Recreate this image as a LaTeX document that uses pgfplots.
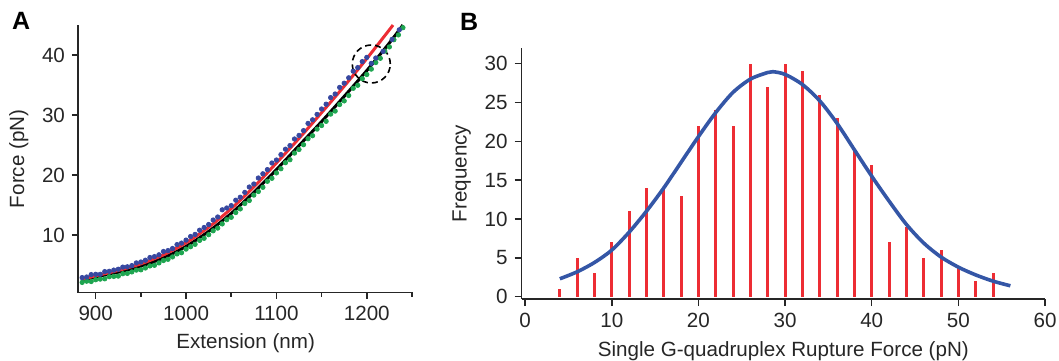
\documentclass[border=0pt]{standalone}
\usepackage{fontspec}
\setmainfont{Liberation Sans}
\usepackage{pgfplots}
\pgfplotsset{compat=1.18}
\definecolor{myred}{RGB}{237,45,52}
\definecolor{curveblue}{RGB}{52,86,166}
\definecolor{datablue}{RGB}{55,72,160}
\definecolor{datagreen}{RGB}{30,165,80}
\pgfplotsset{
  common/.style={
    scale only axis,
    anchor=south west,
    axis lines=left,
    axis line style={-, line width=0.75pt, black!85},
    tick align=outside,
    tick style={line width=0.75pt, black!85},
    /pgf/number format/assume math mode=true,
    /pgf/number format/1000 sep={},
    tick label style={font=\fontsize{10.3}{12}\selectfont, text=black!85},
    label style={font=\fontsize{10.3}{12}\selectfont, text=black!85},
  }
}
\begin{document}
\begin{tikzpicture}
\useasboundingbox (0,0) rectangle (529.5pt,180pt);
\node[anchor=base west, inner sep=0pt, font=\bfseries\fontsize{12.5}{14}\selectfont] at (5.8pt,165.2pt) {A};
\node[anchor=base west, inner sep=0pt, font=\bfseries\fontsize{12.5}{14}\selectfont] at (229.8pt,165pt) {B};
% Panel A
\begin{axis}[common,
  at={(39pt,33.7pt)}, width=167.7pt, height=133.8pt,
  xmin=880.4, xmax=1251.6, ymin=0.4, ymax=45,
  xtick={900,1000,1100,1200}, minor xtick={950,1050,1150,1250},
  ytick={10,20,30,40},
  major tick length=3pt, minor tick length=2pt,
  xlabel={Extension (nm)}, ylabel={Force (pN)},
  clip=false]
\addplot[only marks, mark=*, mark size=1.1pt, color=datagreen] coordinates {
(885,2.1) (890,2.3) (895,2.25) (900,2.55) (905,2.65) (910,2.7) (915,3.05) (920,3.1)
(925,3.15) (930,3.55) (935,3.6) (940,3.85) (945,4.15) (950,4.2) (955,4.5) (960,4.85)
(965,4.95) (970,5.35) (975,5.75) (980,5.95) (985,6.35) (990,6.85) (995,7.05) (1000,7.65)
(1005,8.05) (1010,8.45) (1015,9.1) (1020,9.45) (1025,10.05) (1030,10.7) (1035,11.15)
(1040,11.85) (1045,12.55) (1050,12.95) (1055,13.75) (1060,14.35) (1065,15.25) (1070,15.75)
(1075,16.65) (1080,17.25) (1085,17.95) (1090,18.95) (1095,19.45) (1100,20.35) (1105,21.05)
(1110,22.05) (1115,22.55) (1120,23.65) (1125,24.25) (1130,25.05) (1135,26.05) (1140,26.55)
(1145,27.65) (1150,28.25) (1155,28.95) (1160,30.15) (1165,30.65) (1170,31.75) (1175,32.35)
(1180,33.25) (1185,34.45) (1190,34.95) (1195,36.05) (1200,36.75) (1205,37.65) (1210,38.75)
(1215,39.45) (1220,40.65) (1225,41.35) (1230,42.55) (1235,43.35) (1240,44.55)};
\addplot[only marks, mark=*, mark size=1.1pt, color=datablue] coordinates {
(885,2.9) (890,3.0) (895,3.4) (900,3.45) (905,3.45) (910,3.9) (915,3.95) (920,4.15)
(925,4.3) (930,4.65) (935,4.7) (940,4.9) (945,5.35) (950,5.5) (955,5.8) (960,6.25)
(965,6.4) (970,6.7) (975,7.25) (980,7.4) (985,7.75) (990,8.4) (995,8.65) (1000,9.15)
(1005,9.75) (1010,10.1) (1015,10.8) (1020,11.25) (1025,11.75) (1030,12.5) (1035,13.0)
(1040,14.2) (1045,14.5) (1050,14.9) (1055,15.8) (1060,16.3) (1065,17.1) (1070,18.0)
(1075,18.5) (1080,19.5) (1085,20.2) (1090,20.9) (1095,22.0) (1100,22.5) (1105,23.4)
(1110,24.3) (1115,24.9) (1120,26.0) (1125,26.6) (1130,27.4) (1135,28.6) (1140,29.2)
(1145,30.1) (1150,31.0) (1155,31.8) (1160,32.9) (1165,33.5) (1170,34.6) (1175,35.3)
(1180,36.2) (1185,37.3) (1190,37.9) (1195,38.9) (1200,39.6) (1205,38.6) (1210,39.5)
(1218,40.6) (1228,42.6) (1236,44.2)};
\addplot[smooth, black, line width=1.5pt] coordinates {
(885,2.4) (900,3.0) (925,3.8) (950,4.8) (975,6.2) (1000,8.1) (1025,10.6) (1050,13.6)
(1075,17.1) (1100,20.9) (1125,24.9) (1150,28.9) (1175,33.1) (1200,37.4) (1225,42.0) (1240,45.0)};
\addplot[smooth, myred, line width=1.5pt] coordinates {
(885,2.6) (900,3.2) (925,4.1) (950,5.2) (975,6.7) (1000,8.7) (1025,11.3) (1050,14.4)
(1075,18.0) (1100,22.0) (1125,26.1) (1150,30.4) (1175,34.8) (1200,39.4) (1225,44.2) (1229,45.0)};
\draw[black, line width=0.8pt, dash pattern=on 3pt off 2pt] (axis cs:1205,38.5) circle[radius=9.5pt];
\end{axis}
% Panel B
\begin{axis}[common,
  at={(260.85pt,30.5pt)}, width=261.65pt, height=125.5pt,
  xmin=-0.4, xmax=60, ymin=-0.3, ymax=32,
  xtick={0,10,20,30,40,50,60}, ytick={0,5,10,15,20,25,30},
  major tick length=3.5pt,
  xlabel={Single G-quadruplex Rupture Force (pN)}, ylabel={Frequency}]
\addplot[ycomb, myred, line width=1.5pt, no marks] coordinates {
(4,1) (6,5) (8,3) (10,7) (12,11) (14,14) (16,14) (18,13) (20,22) (22,24) (24,22)
(26,30) (28,27) (30,30) (32,29) (34,26) (36,23) (38,19) (40,17) (42,7) (44,9)
(46,5) (48,6) (50,4) (52,2) (54,3)};
\addplot[smooth, curveblue, line width=1.8pt] coordinates {
(4,2.3) (6,3.2) (8,4.4) (10,6.0) (12,8.3) (14,11.0) (16,14.0) (18,17.3) (20,20.6)
(22,23.7) (24,26.3) (26,28.0) (28,28.85) (28.6,28.95) (30,28.6) (32,27.3) (34,25.2)
(36,22.3) (38,18.9) (40,15.5) (42,12.3) (44,9.3) (46,6.9) (48,5.1) (50,3.8)
(52,2.8) (54,2.0) (56,1.4)};
\end{axis}
\end{tikzpicture}
\end{document}
